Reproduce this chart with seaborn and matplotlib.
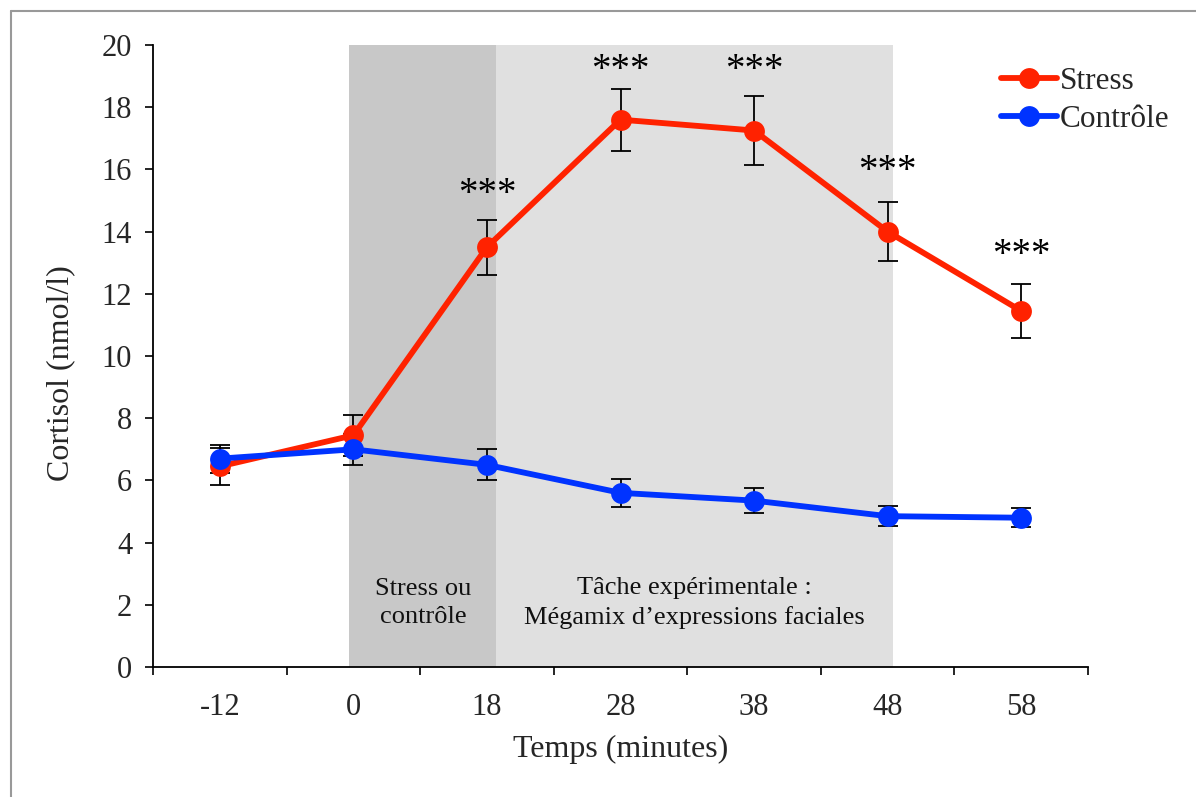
import matplotlib
matplotlib.use("Agg")
import matplotlib.pyplot as plt
import matplotlib.transforms as mtransforms
import seaborn as sns
import pandas as pd
import numpy as np
from matplotlib.lines import Line2D

# ---- data ----
times = ["-12", "0", "18", "28", "38", "48", "58"]
stress_mean = [6.45, 7.45, 13.5, 17.6, 17.25, 14.0, 11.45]
stress_err = [0.6, 0.65, 0.88, 1.0, 1.1, 0.95, 0.87]
control_mean = [6.7, 7.0, 6.5, 5.6, 5.35, 4.85, 4.8]
control_err = [0.45, 0.5, 0.5, 0.45, 0.4, 0.33, 0.3]
signif = ["", "", "***", "***", "***", "***", "***"]
signif_y = [None, None, 15.55, 19.55, 19.55, 16.3, 13.6]
series_names = ["Stress", "Contrôle"]
colors = {"Stress": "#FF2200", "Contrôle": "#0033FF"}

sns.set_theme(style="ticks")
plt.rcParams['font.family'] = ['Liberation Serif', 'DejaVu Serif']

df = pd.DataFrame({
    "idx": list(range(len(times))) * 2,
    "time": times * 2,
    "cortisol": stress_mean + control_mean,
    "err": stress_err + control_err,
    "group": [series_names[0]] * len(times) + [series_names[1]] * len(times),
})

fig = plt.figure(figsize=(11.96, 7.97), dpi=100)
ax = fig.add_axes([153/1196, 1 - 667/797, (1088-153)/1196, (667-45)/797])

# shaded periods (in category units)
i0 = times.index("0")
i18 = times.index("18")
i48 = times.index("48")
ax.axvspan(i0 - 0.03, i18 + 0.07, color="#C8C8C8", lw=0, zorder=0)
ax.axvspan(i18 + 0.07, i48 + 0.04, color="#E0E0E0", lw=0, zorder=0)

# error bars
for name, sub in df.groupby("group", sort=False):
    ax.errorbar(sub["idx"], sub["cortisol"], yerr=sub["err"], fmt="none",
                ecolor="black", elinewidth=1.3, capsize=7.5, capthick=1.3, zorder=2)

sns.lineplot(data=df, x="idx", y="cortisol", hue="group", hue_order=series_names,
             palette=colors, marker="o", markersize=15, markeredgewidth=0,
             linewidth=4.2, ax=ax, zorder=3, legend=False)

# significance stars (glyphs sit high in the line, so anchor on baseline)
star_tr = mtransforms.offset_copy(ax.transData, fig=fig, y=-21, units="dots")
for i, (s, y) in enumerate(zip(signif, signif_y)):
    if s:
        ax.text(i, y, s, ha="center", va="baseline", fontsize=28, color="black",
                transform=star_tr)

# period labels
ax.text((i0 + i18 + 0.04) / 2, 2.05, "Stress ou\ncontrôle", ha="center", va="center",
        fontsize=19, linespacing=1.38, color="#111111")
ax.text((i18 + 0.07 + i48 + 0.04) / 2, 2.05,
        "Tâche expérimentale :\nMégamix d’expressions faciales", ha="center", va="center",
        fontsize=19, linespacing=1.38, color="#111111")

ax.set_xlim(-0.5, len(times) - 0.5)
ax.set_ylim(0, 20)
ax.set_yticks(np.arange(0, 21, 2))
ax.set_yticklabels([str(v) for v in range(0, 21, 2)], fontsize=22)
ax.set_xticks(range(len(times)))
ax.set_xticklabels(times, fontsize=22)
ax.set_xticks(np.arange(-0.5, len(times), 1.0), minor=True)
ax.tick_params(axis="x", which="major", length=0, pad=19)
ax.tick_params(axis="x", which="minor", length=6, width=1.2, direction="out", color="black")
ax.tick_params(axis="y", length=6, width=1.2, direction="out", pad=9, color="black")
ax.set_xlabel("Temps (minutes)", fontsize=23, labelpad=9)
ax.set_ylabel("Cortisol (nmol/l)", fontsize=23)
ax.yaxis.set_label_coords(-0.083, 0.472)
for sp in ["top", "right"]:
    ax.spines[sp].set_visible(False)
for sp in ["left", "bottom"]:
    ax.spines[sp].set_linewidth(1.3)
    ax.spines[sp].set_color("black")

# legend
handles = [Line2D([0], [0], color=colors[n], lw=4.2, marker="o", markersize=15,
                  markeredgewidth=0) for n in series_names]
leg = ax.legend(handles, series_names, loc="upper right", bbox_to_anchor=(1.1, 0.985),
                frameon=False, fontsize=22.5, handlelength=1.8, handletextpad=0.08,
                labelspacing=0.3, borderaxespad=0)

# figure frame (left and top edges visible)
fx, fy = 11/1196, 1 - 11/797
fig.add_artist(Line2D([fx, fx], [0, fy], transform=fig.transFigure, color="#999999", lw=1.5))
fig.add_artist(Line2D([fx, 1], [fy, fy], transform=fig.transFigure, color="#999999", lw=1.5))

fig.savefig("out.png", dpi=100)
